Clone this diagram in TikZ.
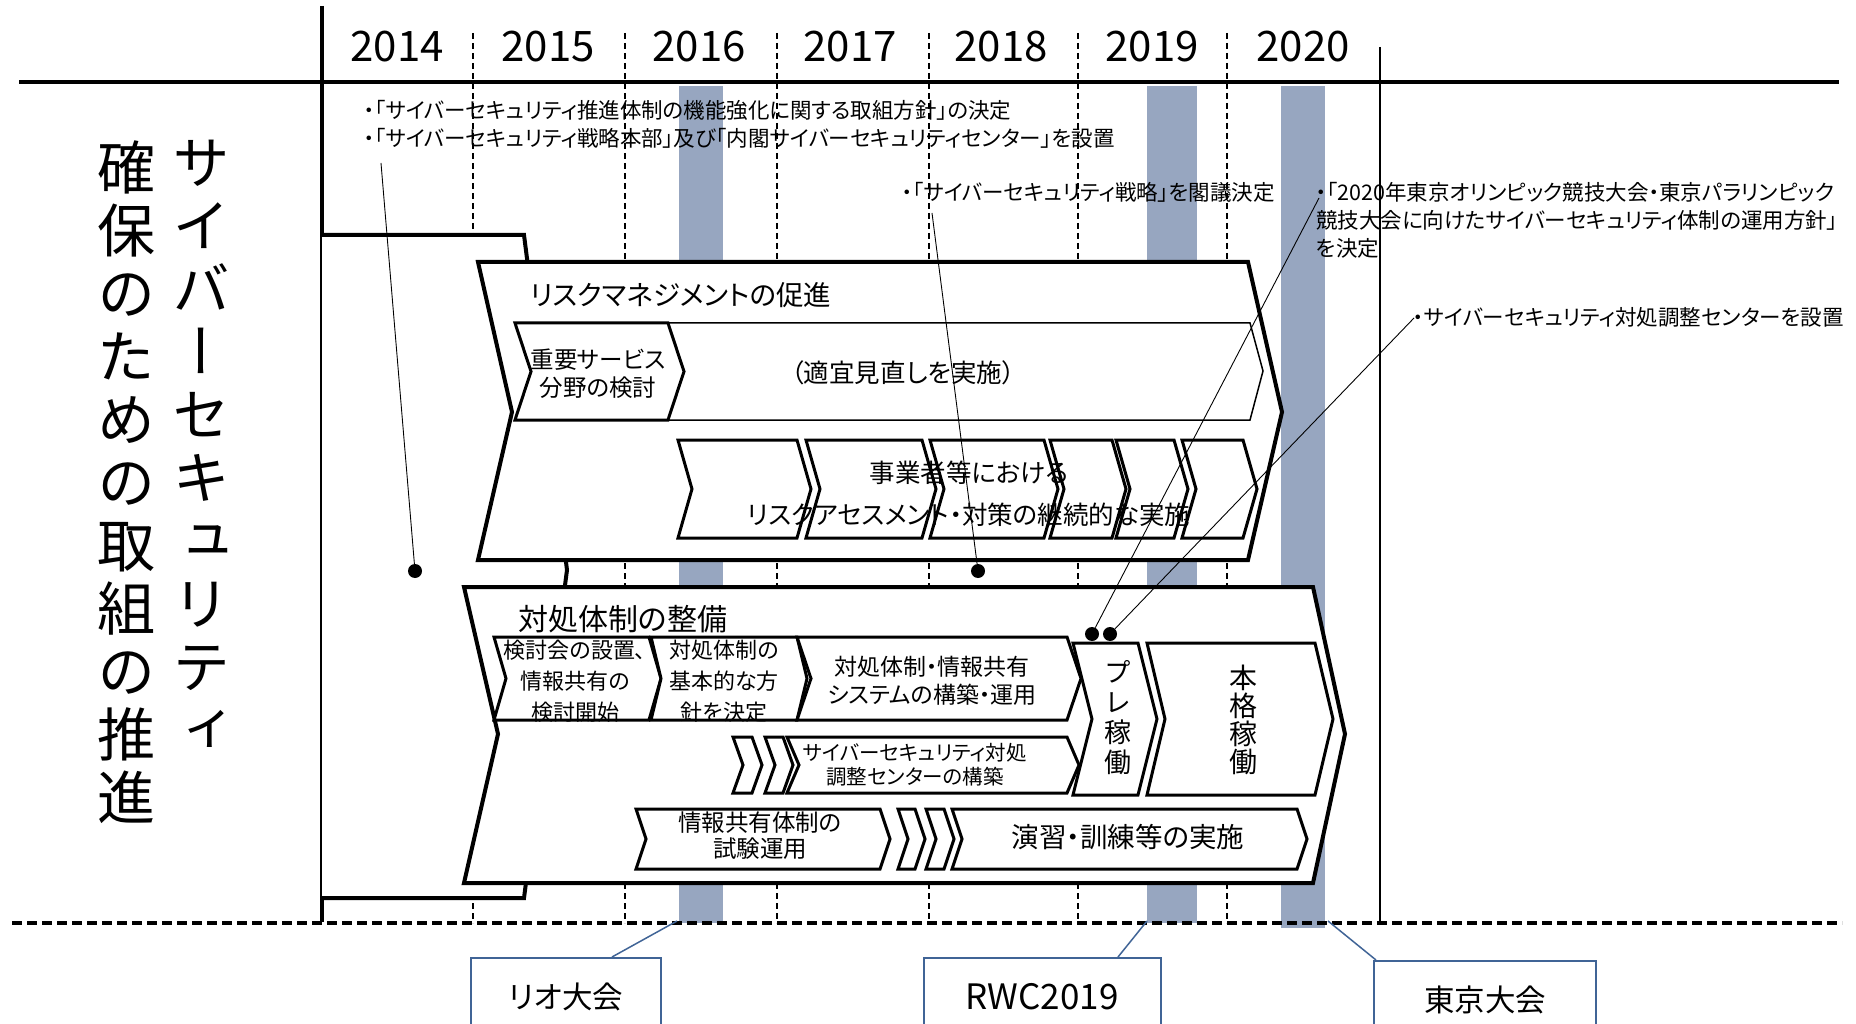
\documentclass[tikz,border=0pt]{standalone}
\usepackage{fontspec}
\usepackage{graphicx}
\setmainfont{Noto Sans CJK JP}[RawFeature=+palt]
\newfontfamily\tate{Noto Sans CJK JP}[RawFeature=+vert]
\usetikzlibrary{positioning}
\definecolor{bandgray}{RGB}{151,166,192}
\definecolor{evblue}{RGB}{64,100,150}
\newcommand{\chevpath}[5]{(#1,#3) -- (#2,#3) -- ({#2+#5},{(#3+#4)/2}) -- (#2,#4) -- (#1,#4) -- ({#1+#5},{(#3+#4)/2}) -- cycle}

\begin{document}
\begin{tikzpicture}
[x=1pt, y=-1pt, node distance=151pt,
every node/.style={inner sep=0pt},
yr/.style={font=\fontsize{42}{42}\selectfont},
band/.style={fill=bandgray},
yearline/.style={line width=1.2pt, dash pattern=on 6pt off 4pt},
axisline/.style={line width=4.5pt},
bigarrow/.style={draw, fill=white, line width=4pt},
chevron/.style={draw, fill=white, line width=3pt},
thinbox/.style={draw, line width=1.5pt},
ttl/.style={anchor=west, font=\fontsize{27.5}{30}\selectfont},
txt/.style={align=center, font=\fontsize{23.5}{28}\selectfont},
tatev/.style={align=center, font=\tate\fontsize{58}{63}\selectfont},
ann/.style={anchor=west, align=left, font=\fontsize{21.5}{28}\selectfont},
leader/.style={line width=0.9pt},
bullet/.style={circle, fill, minimum size=14pt},
evbox/.style={draw=evblue, line width=2pt, minimum height=120pt, anchor=north},
evline/.style={draw=evblue, line width=1.5pt},
evtext/.style={font=\fontsize{30.5}{32}\selectfont}
]
  \path[use as bounding box] (0,0) rectangle (1856,1024);
  \clip (0,0) rectangle (1856,1024);

  % event bands
  \fill[band] (679,86) rectangle (723,923);
  \fill[band] (1147,86) rectangle (1197,923);
  \fill[band] (1281,86) rectangle (1325,928);

  % year grid
  \foreach \x in {473,625,777,929,1078,1227}
    \draw[yearline] (\x,33) -- (\x,923);
  \draw[line width=1.3pt] (1380,47) -- (1380,925);
  \draw[axisline] (19,82) -- (1839,82);
  \draw[axisline] (322,6) -- (322,922);

  \node[yr] (y2014)                   at (397,47) {2014};
  \node[yr] (y2015) [right of=y2014]  {2015};
  \node[yr] (y2016) [right of=y2015]  {2016};
  \node[yr] (y2017) [right of=y2016]  {2017};
  \node[yr] (y2018) [right of=y2017]  {2018};
  \node[yr] (y2019) [right of=y2018]  {2019};
  \node[yr] (y2020) [right of=y2019]  {2020};

  % left title
  \node[tatev] (title2) at (126,482) {確\\保\\の\\た\\め\\の\\取\\組\\の\\推\\進};
  \node[tatev] (title1) at (201,446) {サ\\イ\\バ\\ー\\セ\\キ\\ュ\\リ\\テ\\ィ};

  % bracket
  \filldraw[fill=white, line width=4pt] (322,235) -- (524,235) -- (567,570) -- (524,898) -- (322,898);

  % risk management
  \draw[bigarrow] (478,262) -- (1248,262) -- (1282,412) -- (1248,560) -- (478,560) -- (512,412) -- cycle;
  \node[ttl] (riskttl) at (530,295) {リスクマネジメントの促進};
  \draw[thinbox] (530,323) -- (1250,323) -- (1263,371) -- (1250,420) -- (530,420);
  \draw[chevron] \chevpath{515}{668}{323}{420}{16};
  \node[txt] (svc) at (598,374) {重要サービス\\分野の検討};
  \node[font=\fontsize{25.5}{28}\selectfont] (review) at (903,373) {（適宜見直しを実施）};
  \foreach \a/\b in {678/797, 806/922, 930/1044, 1050/1112, 1116/1174, 1182/1243}
    \draw[chevron] \chevpath{\a}{\b}{440}{538}{14};
  \node[txt, font=\fontsize{25.5}{42}\selectfont] (assess) at (969,494) {事業者等における\\リスクアセスメント・対策の継続的な実施};

  % response system
  \draw[bigarrow] (464,587) -- (1313,587) -- (1345,734) -- (1313,883) -- (464,883) -- (498,734) -- cycle;
  \node[ttl, font=\fontsize{30}{32}\selectfont] (respttl) at (518,619) {対処体制の整備};
  \draw[chevron] \chevpath{494}{649}{637}{720}{12};
  \draw[chevron] \chevpath{651}{797}{637}{720}{10};
  \draw[chevron] \chevpath{797}{1067}{637}{720}{14};
  \node[txt, font=\fontsize{22}{31}\selectfont] (study) at (575,681) {検討会の設置、\\情報共有の\\検討開始};
  \node[txt, font=\fontsize{22}{31}\selectfont] (policy) at (724,681) {対処体制の\\基本的な方\\針を決定};
  \node[txt, font=\fontsize{23}{28}\selectfont] (infosys) at (932,681) {対処体制・情報共有\\システムの構築・運用};
  \draw[chevron] \chevpath{733}{752}{737}{793}{10};
  \draw[chevron] \chevpath{765}{783}{737}{793}{10};
  \draw[chevron] \chevpath{787}{1067}{737}{793}{12};
  \node[txt, font=\fontsize{20.5}{24}\selectfont] (center) at (915,765) {サイバーセキュリティ対処\\調整センターの構築};
  \draw[chevron] \chevpath{1073}{1138}{643}{795}{19};
  \draw[chevron] \chevpath{1147}{1315}{643}{795}{18};
  \node[align=center, font=\tate\fontsize{27}{30}\selectfont] (pre) at (1118,718) {プ\\レ\\稼\\働};
  \node[align=center, font=\tate\fontsize{28}{28}\selectfont] (full) at (1243,720) {本\\格\\稼\\働};
  \draw[chevron] \chevpath{636}{880}{809}{869}{10};
  \draw[chevron] \chevpath{898}{915}{809}{869}{10};
  \draw[chevron] \chevpath{926}{944}{809}{869}{10};
  \draw[chevron] \chevpath{952}{1297}{809}{869}{10};
  \node[txt, font=\fontsize{23.5}{26}\selectfont] (trial) at (760,836) {情報共有体制の\\試験運用};
  \node[font=\fontsize{27.5}{28}\selectfont] (drill) at (1128,837) {演習・訓練等の実施};

  % milestones
  \node[ann] (ann1) at (364,110) {・「サイバーセキュリティ推進体制の機能強化に関する取組方針」の決定};
  \node[ann] (ann2) at (364,138) {・「サイバーセキュリティ戦略本部」及び「内閣サイバーセキュリティセンター」を設置};
  \node[ann] (ann3) at (902,192) {・「サイバーセキュリティ戦略」を閣議決定};
  \node[ann] (ann4) at (1316,220) {・「2020年東京オリンピック競技大会・東京パラリンピック\\競技大会に向けたサイバーセキュリティ体制の運用方針」\\を決定};
  \node[ann] (ann5) at (1413,317) {・サイバーセキュリティ対処調整センターを設置};

  \coordinate (l1) at (381,163);
  \coordinate (l2) at (932,213);
  \coordinate (l3) at (1319,198);
  \coordinate (l4) at (1414,318);
  \node[bullet] (d1) at (415,571) {};
  \node[bullet] (d2) at (978,571) {};
  \node[bullet] (d3) at (1092,634) {};
  \node[bullet] (d4) at (1110,634) {};
  \path
    (l1) edge[leader] (d1)
    (l2) edge[leader] (d2)
    (l3) edge[leader] (d3)
    (l4) edge[leader] (d4)
    ;

  % events
  \draw[line width=4pt, dash pattern=on 10pt off 5pt] (12,923) -- (1842,923);
  \node[evbox, minimum width=190pt] (rio) at (566,957) {};
  \node[evbox, minimum width=237pt] (rwc) at (1042,957) {};
  \node[evbox, minimum width=222pt] (tky) at (1485,960) {};
  \node[evtext] (riot) at ([yshift=-40pt]rio.north) {リオ大会};
  \node[evtext, font=\fontsize{35}{36}\selectfont] (rwct) at ([yshift=-40pt]rwc.north) {RWC2019};
  \node[evtext] (tkyt) at ([yshift=-40pt]tky.north) {東京大会};
  \coordinate (rioband) at (677,921);
  \coordinate (rwcband) at (1147,921);
  \coordinate (tkyband) at (1328,921);
  \draw[evline] ([xshift=46pt]rio.north) -- (rioband);
  \draw[evline] ([xshift=76pt]rwc.north) -- (rwcband);
  \draw[evline] ([xshift=3pt]tky.north west) -- (tkyband);
\end{tikzpicture}
\end{document}
